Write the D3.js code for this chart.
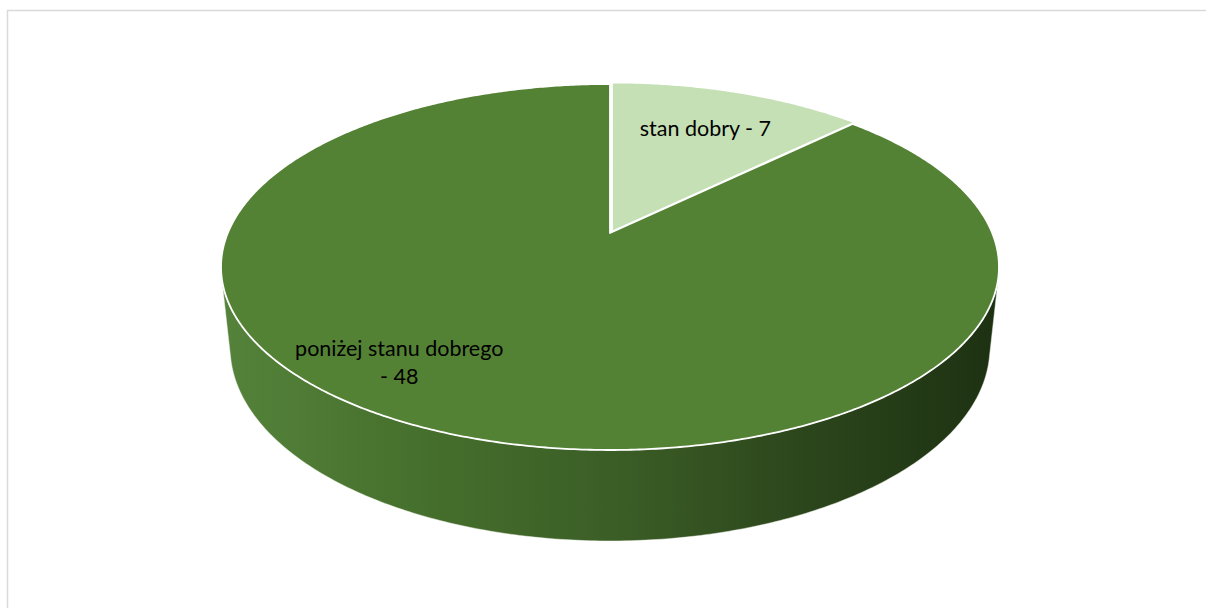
<!DOCTYPE html>
<html>
<head>
<meta charset="utf-8">
<script src="https://cdn.jsdelivr.net/npm/d3@7"></script>
<style>
  html, body { margin: 0; padding: 0; background: #fff; }
  svg { display: block; }
</style>
</head>
<body>
<svg id="chart" width="1206" height="608"></svg>
<script>
// ---- data ----
const categories = ["stan dobry", "poniżej stanu dobrego"];
const values = [7, 48];
const labelLines = [["stan dobry - 7"], ["poniżej stanu dobrego", "- 48"]];

// ---- styles / layout ----
const topColors = ["#c5e0b4", "#548235"];
const W = 1206, H = 608;
const cx = 610, cy = 233;          // projected pie centre
const F = 1824.7, L = 4.774;       // perspective camera
const sinP = 0.4623, cosP = Math.sqrt(1 - sinP * sinP);
const depthH = 0.2396;             // pie thickness (world units, radius = 1)

const svg = d3.select("#chart");

// border
svg.append("rect")
  .attr("x", 7.5).attr("y", 10.5)
  .attr("width", W).attr("height", H)
  .attr("fill", "#fff")
  .attr("stroke", "#d9d9d9").attr("stroke-width", 1.5);

function project(X, Y, Z) {
  const d = L + Y * cosP - Z * sinP;
  return [cx + F * X / d, cy - F * (Y * sinP + Z * cosP) / d];
}
function rim(a, Z, r = 1) { return project(r * Math.sin(a), r * Math.cos(a), Z); }

const pie = d3.pie().sort(null).value(d => d)(values);

const defs = svg.append("defs");
const grad = defs.append("linearGradient").attr("id", "side")
  .attr("gradientUnits", "userSpaceOnUse")
  .attr("x1", cx - 390).attr("y1", 0).attr("x2", cx + 390).attr("y2", 0);
[[0, "#55833b"], [0.25, "#46702d"], [0.5, "#3b5e26"], [0.75, "#2c461c"], [1, "#1d3112"]]
  .forEach(([o, c]) => grad.append("stop").attr("offset", o).attr("stop-color", c));

const line = d3.line();
const N = 240;

// side wall (visible front part)
const silR = Math.acos(-1 / (L * cosP));          // right silhouette angle
const silL = 2 * Math.PI - silR;                  // left silhouette angle
const sidePts = [];
for (let i = 0; i <= N; i++) { const a = silR + (silL - silR) * i / N; sidePts.push(rim(a, 0)); }
for (let i = N; i >= 0; i--) { const a = silR + (silL - silR) * i / N; sidePts.push(rim(a, -depthH)); }
svg.append("path")
  .attr("d", line(sidePts) + "Z")
  .attr("fill", "url(#side)")
  .attr("stroke", "#eef3ea").attr("stroke-width", 0.8).attr("stroke-opacity", 0.6);

// top faces
const explode = [[2, -1.5], [0, 0]];
pie.forEach((p, i) => {
  const pts = [project(0, 0, 0)];
  const n = Math.max(8, Math.round((p.endAngle - p.startAngle) / (2 * Math.PI) * 720));
  for (let j = 0; j <= n; j++) {
    const a = p.startAngle + (p.endAngle - p.startAngle) * j / n;
    pts.push(rim(a, 0));
  }
  svg.append("path")
    .attr("d", line(pts) + "Z")
    .attr("transform", `translate(${explode[i][0]},${explode[i][1]})`)
    .attr("fill", topColors[i])
    .attr("stroke", "#ffffff").attr("stroke-width", 1.8).attr("stroke-linejoin", "round");
});

// labels (positions in pie polar coords: angle offset from slice mid, radius, pixel dy)
const labelPos = [[0.0, 0.72, 0], [0.22, 0.83, -7]];
pie.forEach((p, i) => {
  const mid = (p.startAngle + p.endAngle) / 2 + labelPos[i][0];
  const [x, y] = rim(mid, 0, labelPos[i][1]);
  const lines = labelLines[i];
  const lh = 28;
  const t = svg.append("text")
    .attr("font-family", "Lato, 'Open Sans', sans-serif")
    .attr("font-size", 21.5)
    .attr("fill", "#000")
    .attr("text-anchor", "middle");
  lines.forEach((s, k) => {
    t.append("tspan").attr("x", x)
      .attr("y", y + 7 + labelPos[i][2] - (lines.length - 1) * lh / 2 + k * lh)
      .text(s);
  });
});
</script>
</body>
</html>
